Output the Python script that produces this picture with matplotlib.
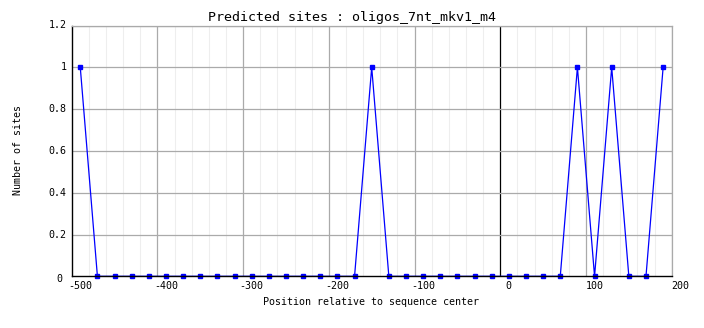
import matplotlib
matplotlib.use("Agg")
import matplotlib.pyplot as plt
import matplotlib.transforms as mtransforms
import numpy as np

positions = list(range(-500, 181, 20))
sites = [1 if p in (-500, -160, 80, 120, 180) else 0 for p in positions]
xtick_labels = [-500, -400, -300, -200, -100, 0, 100, 200]
ytick_values = [0, 0.2, 0.4, 0.6, 0.8, 1, 1.2]

plt.rcParams['font.family'] = ['DejaVu Sans Mono']

fig = plt.figure(figsize=(7.04, 3.28), dpi=100)
ax = fig.add_axes([71.7/704, 1-276.3/328, 600/704, 250.8/328])
ax.set_xlim(-510, 190)
ax.set_ylim(0, 1.2)

# grids
for gx in np.arange(-510, 191, 20):
    if (gx + 510) % 100 != 0:
        ax.axvline(gx, color='#eeeeee', lw=0.8, zorder=0)
for gx in np.arange(-410, 191, 100):
    if gx == -10:
        ax.axvline(gx, color='black', lw=0.9, zorder=1)
    else:
        ax.axvline(gx, color='#aaaaaa', lw=0.9, zorder=1)
for gy in ytick_values[1:]:
    ax.axhline(gy, color='#aaaaaa', lw=0.9, zorder=1)

ax.plot(positions, sites, color='#0000ff', lw=0.9, marker='s', ms=2.2,
        mec='#0000ff', mfc='#0000ff', zorder=3, clip_on=False)

for s in ['top', 'right']:
    ax.spines[s].set_color('#aaaaaa')
    ax.spines[s].set_linewidth(0.9)
for s in ['left', 'bottom']:
    ax.spines[s].set_color('black')
    ax.spines[s].set_linewidth(1.0)
ax.spines['bottom'].set_zorder(4)

ax.set_xticks([])
ax.set_yticks([])

trans = mtransforms.blended_transform_factory(ax.transData, ax.transAxes)
for v in xtick_labels:
    ax.text(v, -0.018, str(v), transform=trans, ha='center', va='top',
            fontsize=7.2, clip_on=False)
transy = mtransforms.blended_transform_factory(ax.transAxes, ax.transData)
for v in ytick_values:
    lab = ('%g' % v)
    if v == 0:
        ax.text(-0.015, -0.012, lab, transform=transy, ha='right', va='center', fontsize=7.2)
    else:
        ax.text(-0.0085, v, lab, transform=transy, ha='right', va='center', fontsize=7.2)

fig.text(371/704, 1-302/328, 'Position relative to sequence center', ha='center',
         va='center', fontsize=7.2)
fig.text(18/704, 1-150/328, 'Number of sites', rotation=90, ha='center',
         va='center', fontsize=7.2)
fig.text(352/704, 1-17/328, 'Predicted sites : oligos_7nt_mkv1_m4', ha='center',
         va='center', fontsize=9.6)

fig.savefig('out.png', dpi=100)
